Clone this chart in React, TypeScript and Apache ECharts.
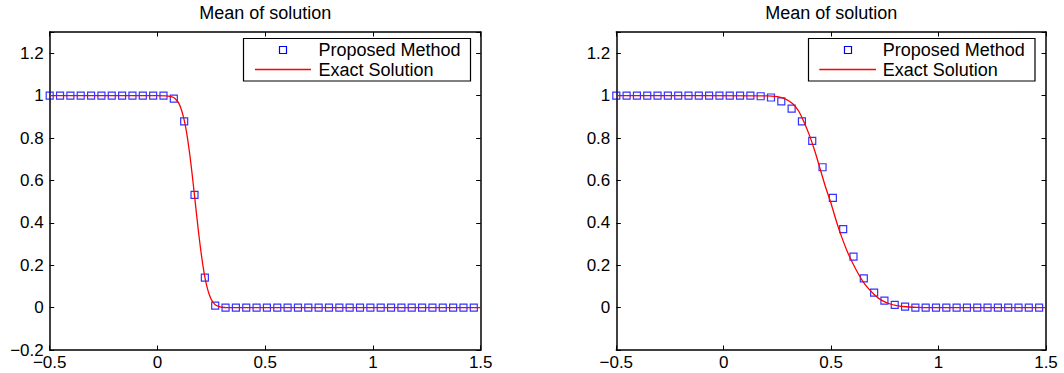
import React, { useEffect, useRef } from "react";
import * as echarts from "echarts";

const TITLE = "Mean of solution";
const LEGEND_MARKER = "Proposed Method";
const LEGEND_LINE = "Exact Solution";

const xTicks = [-0.5, 0, 0.5, 1, 1.5];
const yTicks = [-0.2, 0, 0.2, 0.4, 0.6, 0.8, 1, 1.2];

// Marker abscissae (shared by both panels)
const xMarkers = [
  -0.5, -0.452, -0.404, -0.356, -0.308, -0.26, -0.212, -0.164, -0.116, -0.068,
  -0.02, 0.028, 0.076, 0.124, 0.172, 0.22, 0.268, 0.316, 0.364, 0.412,
  0.46, 0.508, 0.556, 0.604, 0.652, 0.7, 0.748, 0.796, 0.844, 0.892,
  0.94, 0.988, 1.036, 1.084, 1.132, 1.18, 1.228, 1.276, 1.324, 1.372,
  1.42, 1.468,
];

// Left panel: proposed method (markers)
const leftMarkerY = [
  1, 1, 1, 1, 1, 1, 1, 1, 1, 1,
  1, 1, 0.986, 0.878, 0.532, 0.141, 0.009, 0, 0, 0,
  0, 0, 0, 0, 0, 0, 0, 0, 0, 0,
  0, 0, 0, 0, 0, 0, 0, 0, 0, 0,
  0, 0,
];

// Right panel: proposed method (markers)
const rightMarkerY = [
  1, 1, 1, 1, 1, 1, 1, 1, 1, 1,
  1, 1, 1, 1, 0.997, 0.991, 0.973, 0.939, 0.878, 0.786,
  0.662, 0.518, 0.37, 0.24, 0.138, 0.071, 0.033, 0.013, 0.005, 0,
  0, 0, 0, 0, 0, 0, 0, 0, 0, 0,
  0, 0,
];

// Left panel: exact solution (line)
const leftCurveX = [
  -0.5, 0, 0.05, 0.075, 0.09, 0.1, 0.11, 0.12, 0.13, 0.14,
  0.15, 0.16, 0.17, 0.18, 0.19, 0.2, 0.21, 0.22, 0.23, 0.24,
  0.25, 0.26, 0.27, 0.28, 0.29, 0.3, 0.32, 0.35, 1.5,
];
const leftCurveY = [
  1, 1, 0.998, 0.991, 0.977, 0.962, 0.937, 0.902, 0.856, 0.795,
  0.722, 0.638, 0.547, 0.453, 0.362, 0.278, 0.205, 0.144, 0.098, 0.063,
  0.0385, 0.0226, 0.0121, 0.0067, 0.0035, 0.0017, 0.0003, 0, 0,
];

// Right panel: exact solution (line)
const rightCurveX = [
  -0.5, 0.2, 0.25, 0.27, 0.3, 0.325, 0.35, 0.375, 0.4, 0.425,
  0.45, 0.475, 0.5, 0.525, 0.55, 0.575, 0.6, 0.625, 0.65, 0.675,
  0.7, 0.725, 0.75, 0.775, 0.8, 0.85, 0.9, 0.95, 1.0, 1.5,
];
const rightCurveY = [
  1, 0.999, 0.995, 0.99, 0.977, 0.958, 0.925, 0.872, 0.81, 0.735,
  0.65, 0.565, 0.49, 0.405, 0.33, 0.265, 0.21, 0.162, 0.12, 0.088,
  0.062, 0.041, 0.027, 0.017, 0.011, 0.004, 0.0012, 0.0003, 0, 0,
];

const FONT_FAMILY = '"Liberation Sans", Arial, Helvetica, sans-serif';

function fmt(v: number, ticks: number[], hideNeg?: boolean) {
  const r = Math.round(v * 100) / 100;
  if (!ticks.some((t) => Math.abs(t - r) < 1e-6)) return "";
  if (hideNeg && r < 0) return "";
  return String(r).replace("-", "\u2212");
}

export default function App() {
  const ref = useRef<HTMLDivElement>(null);

  useEffect(() => {
    document.body.style.margin = "0";
    if (!ref.current) return;
    const chart = echarts.init(ref.current, undefined, { renderer: "svg" });

    const grids = [
      { left: 49.7, top: 32, width: 431, height: 318 },
      { left: 616.3, top: 32, width: 429.7, height: 318 },
    ];

    const axisLine = { show: true, onZero: false, lineStyle: { color: "#000", width: 1.5 } };
    const axisTick = { show: true, inside: true, length: 4.5, lineStyle: { color: "#000", width: 1 } };

    const xAxis: any[] = [];
    const yAxis: any[] = [];
    grids.forEach((_, gi) => {
      ["bottom", "top"].forEach((pos) => {
        xAxis.push({
          gridIndex: gi,
          type: "value",
          position: pos,
          min: -0.5,
          max: 1.5,
          interval: 0.5,
          axisLine,
          axisTick,
          splitLine: { show: false },
          axisLabel: {
            show: pos === "bottom",
            color: "#000",
            fontSize: 17,
            fontFamily: FONT_FAMILY,
            margin: 4,
            formatter: (v: number) => fmt(v, xTicks),
          },
        });
      });
      ["left", "right"].forEach((pos) => {
        yAxis.push({
          gridIndex: gi,
          type: "value",
          position: pos,
          min: -0.2,
          max: 1.3,
          interval: 0.2,
          axisLine,
          axisTick,
          splitLine: { show: false },
          axisLabel: {
            show: pos === "left",
            color: "#000",
            fontSize: 17,
            fontFamily: FONT_FAMILY,
            margin: 6,
            formatter: (v: number) => fmt(v, yTicks, gi === 1),
          },
        });
      });
    });

    const markerSeries = (gi: number, ys: number[]) => ({
      type: "scatter",
      name: LEGEND_MARKER,
      xAxisIndex: gi * 2,
      yAxisIndex: gi * 2,
      data: xMarkers.map((x, i) => [x, ys[i]]),
      symbol: "rect",
      symbolSize: 7,
      clip: false,
      silent: true,
      itemStyle: { color: "rgba(0,0,0,0)", borderColor: "#0000ff", borderWidth: 1.2 },
      z: 2,
    });
    const lineSeries = (gi: number, xs: number[], ys: number[]) => ({
      type: "line",
      name: LEGEND_LINE,
      xAxisIndex: gi * 2,
      yAxisIndex: gi * 2,
      data: xs.map((x, i) => [x, ys[i]]),
      showSymbol: false,
      symbol: "none",
      smooth: 0.2,
      silent: true,
      lineStyle: { color: "#ff0000", width: 1.3 },
      z: 3,
    });

    const font18 = `18px ${FONT_FAMILY}`;
    const legendGraphic = (boxX: number, boxW: number, markerCx: number, lineX1: number, lineX2: number, textX: number) => [
      {
        type: "rect",
        z: 100,
        shape: { x: boxX, y: 38.5, width: boxW, height: 42.5 },
        style: { fill: "#fff", stroke: "#000", lineWidth: 1.2 },
      },
      {
        type: "rect",
        z: 101,
        shape: { x: markerCx - 3.5, y: 46.5, width: 7, height: 7 },
        style: { fill: "none", stroke: "#0000ff", lineWidth: 1.2 },
      },
      {
        type: "line",
        z: 101,
        shape: { x1: lineX1, y1: 69.5, x2: lineX2, y2: 69.5 },
        style: { stroke: "#ff0000", lineWidth: 1.3 },
      },
      {
        type: "text",
        z: 101,
        x: textX,
        y: 50.4,
        style: { text: LEGEND_MARKER, font: font18, fill: "#000", textAlign: "left", textVerticalAlign: "middle" },
      },
      {
        type: "text",
        z: 101,
        x: textX,
        y: 69.7,
        style: { text: LEGEND_LINE, font: font18, fill: "#000", textAlign: "left", textVerticalAlign: "middle" },
      },
    ];

    const titleGraphic = (cx: number) => ({
      type: "text",
      z: 100,
      x: cx,
      y: 13,
      style: { text: TITLE, font: font18, fill: "#000", textAlign: "center", textVerticalAlign: "middle" },
    });

    chart.setOption({
      animation: false,
      backgroundColor: "#fff",
      grid: grids,
      xAxis,
      yAxis,
      series: [
        markerSeries(0, leftMarkerY),
        lineSeries(0, leftCurveX, leftCurveY),
        markerSeries(1, rightMarkerY),
        lineSeries(1, rightCurveX, rightCurveY),
      ],
      graphic: [
        titleGraphic(265.2),
        titleGraphic(831.2),
        ...legendGraphic(243.5, 227, 283, 255, 311, 318.5),
        ...legendGraphic(808.5, 226.5, 848, 819.3, 876, 882.7),
      ],
    });

    return () => chart.dispose();
  }, []);

  return <div ref={ref} style={{ width: 1064, height: 373 }} />;
}
